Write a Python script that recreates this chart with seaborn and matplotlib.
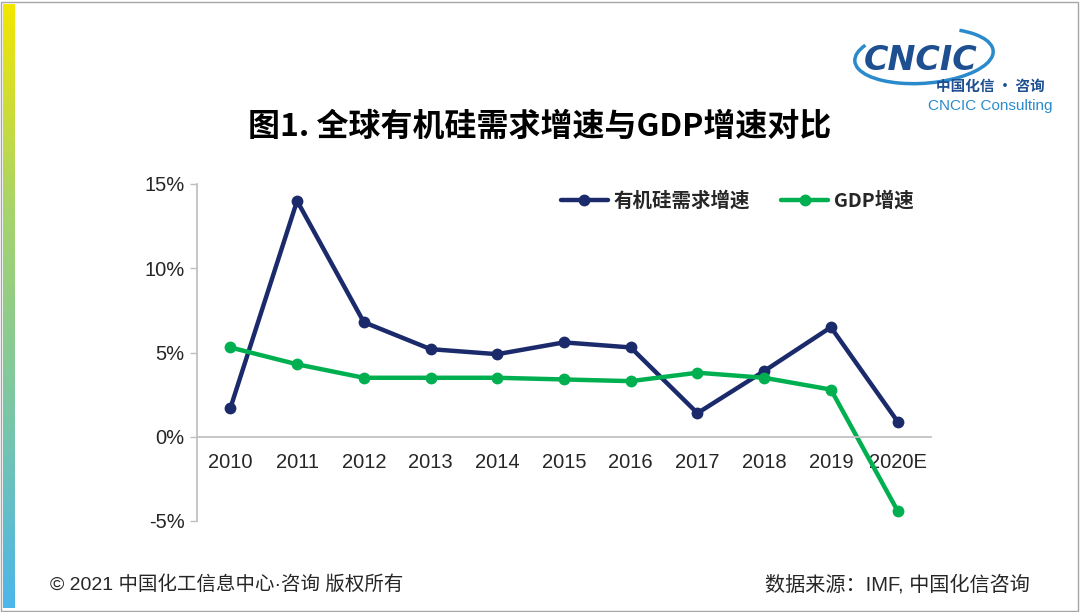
import numpy as np
import pandas as pd
import matplotlib.pyplot as plt
import seaborn as sns
from matplotlib.patches import Rectangle, Arc
from matplotlib.ticker import FixedLocator
from matplotlib.colors import LinearSegmentedColormap

# --- 数据 ---
years = ['2010', '2011', '2012', '2013', '2014', '2015', '2016', '2017', '2018', '2019', '2020E']
silicone_growth = [1.7, 14.0, 6.8, 5.2, 4.9, 5.6, 5.3, 1.4, 3.9, 6.5, 0.9]
gdp_growth = [5.3, 4.3, 3.5, 3.5, 3.5, 3.4, 3.3, 3.8, 3.5, 2.8, -4.4]
series_names = ['有机硅需求增速', 'GDP增速']
y_ticks = [-5, 0, 5, 10, 15]
y_labels = ['-5%', '0%', '5%', '10%', '15%']

sns.set_theme(style='white')
plt.rcParams['font.family'] = ['Liberation Sans', 'Noto Sans CJK SC', 'DejaVu Sans']
cjk = ['Noto Sans CJK SC', 'DejaVu Sans']

df = pd.DataFrame({
    'pos': list(range(len(years))) * 2,
    'value': silicone_growth + gdp_growth,
    'series': [series_names[0]] * len(years) + [series_names[1]] * len(years),
})

fig = plt.figure(figsize=(10.8, 6.12), dpi=100)
fig.patch.set_facecolor('white')

# 外框 + 左侧渐变条
fig.add_artist(Rectangle((0.001, 0.002), 0.997, 0.995, transform=fig.transFigure,
                         fill=False, edgecolor='#A6A6A6', lw=1))
grad_ax = fig.add_axes([3 / 1080, 4 / 612, 12 / 1080, 604 / 612])
grad = np.linspace(0, 1, 256).reshape(-1, 1)
cmap = LinearSegmentedColormap.from_list('bar', ['#F3E600', '#A8D46A', '#7CC7A4', '#4DB6EA'])
grad_ax.imshow(grad, aspect='auto', cmap=cmap)
grad_ax.axis('off')

ax = fig.add_axes([197 / 1080, 1 - 521 / 612, 734 / 1080, 337 / 612])
sns.lineplot(data=df, x='pos', y='value', hue='series', palette=['#1B2A6B', '#00B050'],
             marker='o', markersize=8.5, markeredgewidth=0, linewidth=3.2, ax=ax, legend=True)

ax.set_xlim(-0.5, len(years) - 0.5)
ax.set_ylim(-5, 15)
ax.set_xlabel('')
ax.set_ylabel('')
ax.set_yticks(y_ticks, y_labels)
ax.set_xticks(range(len(years)), years)
ax.xaxis.set_minor_locator(FixedLocator(np.arange(0.5, len(years), 1.0)))
ax.tick_params(axis='x', which='major', length=0, pad=12, labelsize=14.5, labelcolor='#262626')
ax.tick_params(axis='x', which='minor', length=9, width=1, color='#BFBFBF', direction='out')
ax.tick_params(axis='y', length=5, width=1, color='#BFBFBF', direction='out', pad=4, left=True,
               labelsize=14.5, labelcolor='#262626')
for s in ['top', 'right']:
    ax.spines[s].set_visible(False)
ax.spines['bottom'].set_position(('data', 0))
ax.spines['bottom'].set_color('#BFBFBF')
ax.spines['left'].set_color('#BFBFBF')
ax.grid(False)

leg = ax.legend(loc='upper right', bbox_to_anchor=(1.0, 1.03), ncol=2, frameon=False,
                prop={'size': 14, 'weight': 'bold', 'family': cjk}, handlelength=2.4,
                columnspacing=1.6, handletextpad=0.3)

# 标题
fig.text(0.5, 1 - 127 / 612, '图1. 全球有机硅需求增速与GDP增速对比', ha='center', va='center',
         fontsize=23, fontweight='bold', color='black', family=cjk)

# Logo
fig.add_artist(Arc((924 / 1080, 1 - 56 / 612), 140 / 1080, 54 / 612, angle=12, theta1=150, theta2=40,
                   transform=fig.transFigure, edgecolor='#2A8ACB', lw=2.5))
fig.text(921 / 1080, 1 - 61 / 612, 'CNCIC', ha='center', va='center', fontsize=24,
         fontweight='bold', style='italic', color='#1D4F91', family='DejaVu Sans')
fig.text(990 / 1080, 1 - 86 / 612, '中国化信 · 咨询', ha='center', va='center', fontsize=10.5,
         fontweight='bold', color='#1D4F91', family=cjk)
fig.text(990 / 1080, 1 - 106 / 612, 'CNCIC Consulting', ha='center', va='center', fontsize=11,
         color='#2A8ACB')

# 页脚
fig.text(50 / 1080, 1 - 585 / 612, '© 2021 中国化工信息中心·咨询 版权所有', ha='left', va='center',
         fontsize=14, color='#262626')
fig.text(1030 / 1080, 1 - 585 / 612, '数据来源：IMF, 中国化信咨询', ha='right', va='center',
         fontsize=14.5, color='#262626')

fig.savefig('out.png', dpi=100)
